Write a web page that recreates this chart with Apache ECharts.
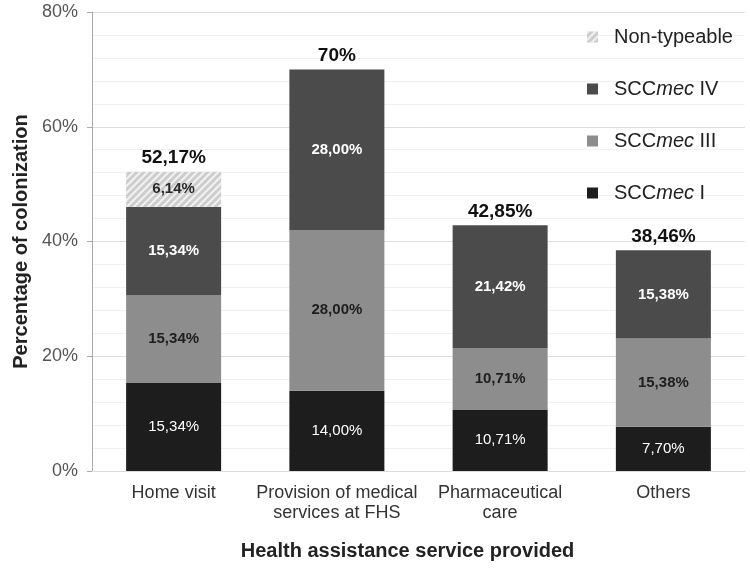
<!DOCTYPE html>
<html>
<head>
<meta charset="utf-8">
<script src="https://cdn.jsdelivr.net/npm/echarts@6/dist/echarts.min.js"></script>
<style>html,body{margin:0;padding:0;background:#fff}#c{width:750px;height:568px}</style>
</head>
<body>
<div id="c"></div>
<script>
var categories = ['Home visit', 'Provision of medical\nservices at FHS', 'Pharmaceutical\ncare', 'Others'];
var sccI = [15.34, 14.00, 10.71, 7.70];
var sccIII = [15.34, 28.00, 10.71, 15.38];
var sccIV = [15.34, 28.00, 21.42, 15.38];
var nonTypeable = [6.14, null, null, null];
var totals = [52.17, 70, 42.85, 38.46];
var totalLabels = ['52,17%', '70%', '42,85%', '38,46%'];
var yTicks = [0, 20, 40, 60, 80];

var FONT = '"Liberation Sans", Arial, sans-serif';
function pct(p) { return p.value == null ? '' : p.value.toFixed(2).replace('.', ',') + '%'; }

var chart = echarts.init(document.getElementById('c'));
var BW = 95;
function seg(name, data, color, lblColor, weight, extra) {
  return {
    name: name, type: 'bar', stack: 'a', data: data, barWidth: BW,
    itemStyle: Object.assign({ color: color }, extra || {}),
    label: { show: true, position: 'inside', formatter: pct, color: lblColor,
      fontFamily: FONT, fontSize: 15, fontWeight: weight },
    emphasis: { disabled: true }
  };
}
chart.setOption({
  animation: false,
  textStyle: { fontFamily: FONT },
  grid: { left: 92, right: 5, top: 12, bottom: 97 },
  legend: {
    orient: 'vertical', left: 582, top: 21, itemWidth: 11, itemHeight: 11, itemGap: 30, icon: 'rect',
    data: ['Non-typeable', 'SCCmec IV', 'SCCmec III', 'SCCmec I'],
    formatter: function (n) {
      if (n.indexOf('SCCmec') === 0) return 'SCC{i|mec}' + n.slice(6);
      return n;
    },
    textStyle: { fontFamily: FONT, fontSize: 20, color: '#222', lineHeight: 22, padding: [0, 0, 0, 11],
      rich: { i: { fontFamily: FONT, fontSize: 20, fontStyle: 'italic', color: '#222', lineHeight: 22 } } }
  },
  xAxis: {
    type: 'category', data: categories,
    axisLine: { show: true, lineStyle: { color: '#dcdcdc' } },
    axisTick: { show: false },
    axisLabel: { fontFamily: FONT, fontSize: 18, color: '#333', lineHeight: 20, margin: 12, interval: 0 },
    name: 'Health assistance service provided', nameLocation: 'middle', nameGap: 70,
    nameTextStyle: { fontFamily: FONT, fontSize: 20, fontWeight: 'bold', color: '#222', padding: [0, 22, 0, 0] }
  },
  yAxis: {
    type: 'value', min: yTicks[0], max: yTicks[yTicks.length - 1], interval: 20,
    axisLine: { show: true, lineStyle: { color: '#aaa' } },
    axisTick: { show: true, inside: false, length: 5, lineStyle: { color: '#aaa' } },
    axisLabel: { fontFamily: FONT, fontSize: 18, color: '#555', margin: 14, formatter: '{value}%' },
    splitLine: { show: true, lineStyle: { color: '#dddddd' } },
    minorTick: { show: false, splitNumber: 5 },
    minorSplitLine: { show: true, lineStyle: { color: '#f1f1f1' } },
    name: 'Percentage of colonization', nameLocation: 'middle', nameGap: 59,
    nameTextStyle: { fontFamily: FONT, fontSize: 20, fontWeight: 'bold', color: '#222' }
  },
  series: [
    seg('SCCmec I', sccI, '#1d1d1d', '#ffffff', 'normal'),
    seg('SCCmec III', sccIII, '#8d8d8d', '#1e1e1e', 'bold'),
    seg('SCCmec IV', sccIV, '#4b4b4b', '#ffffff', 'bold'),
    seg('Non-typeable', nonTypeable, '#cdcdcd', '#2a2a2a', 'bold', {
      decal: { symbol: 'rect', symbolSize: 1, color: 'rgba(255,255,255,0.75)',
        dashArrayX: [1, 0], dashArrayY: [2, 3], rotation: -Math.PI / 4 }
    }),
    {
      name: 'Total', type: 'bar', data: totals, barWidth: BW, barGap: '-100%', z: 1,
      itemStyle: { color: 'rgba(0,0,0,0)' }, silent: true,
      label: { show: true, position: 'top', distance: 4, color: '#111', fontFamily: FONT,
        fontSize: 19, fontWeight: 'bold', formatter: function (p) { return totalLabels[p.dataIndex]; } }
    }
  ]
});
</script>
</body>
</html>
